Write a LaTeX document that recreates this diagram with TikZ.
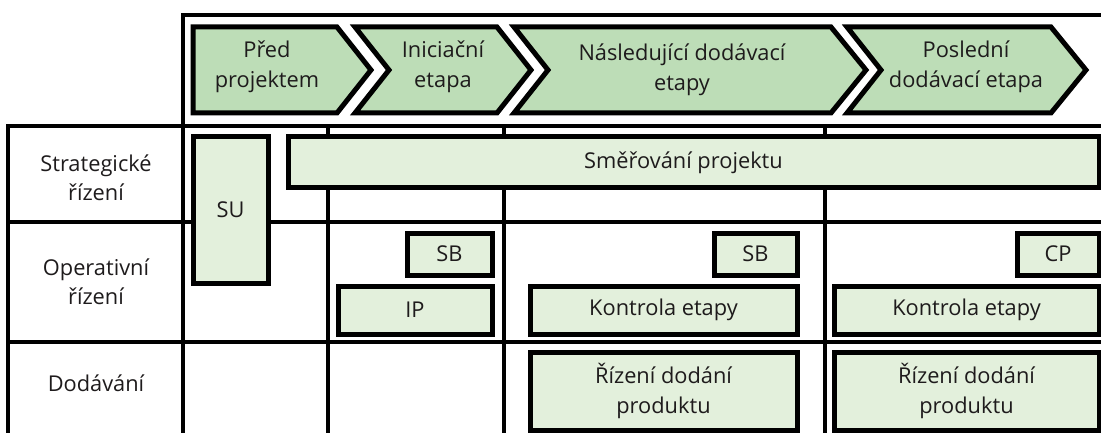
\documentclass[tikz,border=0pt]{standalone}
\usepackage{fontspec}
\setmainfont{Open Sans}
\definecolor{chev}{RGB}{189,221,183}
\definecolor{boxg}{RGB}{227,240,220}
\definecolor{ink}{RGB}{30,27,28}
\tikzset{
  gridline/.style={draw=black, line width=4.3pt, line cap=butt, line join=miter},
  chevshape/.style={draw=black, line width=5pt, fill=chev, line join=miter},
  gbox/.style={draw=black, line width=5pt, fill=boxg, rectangle, inner sep=0pt,
    text=ink, align=center, font=\fontsize{21.8}{29.5}\selectfont},
  lbl/.style={text=ink, align=center, inner sep=0pt, font=\fontsize{21.8}{29.5}\selectfont},
}
\begin{document}
\begin{tikzpicture}[x=1pt,y=-1pt]
\useasboundingbox (0,0) rectangle (1101,433);
% grid
\draw[gridline] (1110,15) -- (183,15) -- (183,445);
\draw[gridline] (1110,126) -- (8,126) -- (8,445);
\draw[gridline] (8,222) -- (1110,222);
\draw[gridline] (8,342) -- (1110,342);
\draw[gridline] (328,126) -- (328,445);
\draw[gridline] (504,126) -- (504,445);
\draw[gridline] (825,126) -- (825,445);
% chevrons
\draw[chevshape] (193,27) -- (337,27) -- (371,70) -- (337,113) -- (193,113) -- cycle;
\draw[chevshape] (355,27) -- (497,27) -- (531,70) -- (497,113) -- (355,113) -- (389,70) -- cycle;
\draw[chevshape] (514,27) -- (831,27) -- (866,70) -- (831,113) -- (514,113) -- (548,70) -- cycle;
\draw[chevshape] (847,27) -- (1051,27) -- (1086,70) -- (1051,113) -- (847,113) -- (881,70) -- cycle;
\node[lbl] (c1) at (267,67) {Před\\projektem};
\node[lbl] (c2) at (443,67) {Iniciační\\etapa};
\node[lbl] (c3) at (682,70) {Následující dodávací\\etapy};
\node[lbl] (c4) at (966,67) {Poslední\\dodávací etapa};
% row labels
\node[lbl] (r1) at (96,178) {Strategické\\řízení};
\node[lbl] (r2) at (96,282) {Operativní\\řízení};
\node[lbl] (r3) at (96,383) {Dodávání};
% boxes
\node[gbox, minimum width=75pt, minimum height=146pt] (su) at (230.5,210) {SU};
\node[gbox, minimum width=811pt, minimum height=51pt] (smer) at (693.5,162.5) {Směřování projektu\hspace*{20pt}};
\node[gbox, minimum width=85pt, minimum height=42pt] (sb1) at (449.5,254) {SB};
\node[gbox, minimum width=154pt, minimum height=48pt] (ip) at (415,310) {IP};
\node[gbox, minimum width=83pt, minimum height=42pt] (sb2) at (755.5,254) {SB};
\node[gbox, minimum width=267pt, minimum height=48pt] (ke1) at (663.5,310) {Kontrola etapy};
\node[gbox, minimum width=82pt, minimum height=42pt] (cp) at (1058,254) {CP};
\node[gbox, minimum width=265pt, minimum height=48pt] (ke2) at (966.5,310) {Kontrola etapy};
\node[gbox, minimum width=267pt, minimum height=78pt] (rd1) at (663.5,391) {Řízení dodání\\produktu};
\node[gbox, minimum width=265pt, minimum height=78pt] (rd2) at (966.5,391) {Řízení dodání\\produktu};
\end{tikzpicture}
\end{document}
